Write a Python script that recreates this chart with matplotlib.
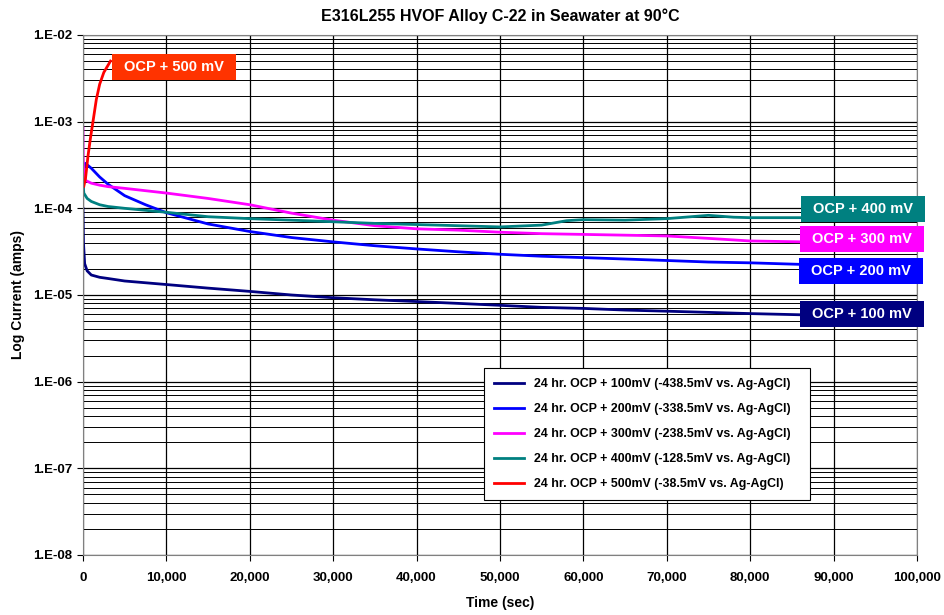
import numpy as np
import matplotlib.pyplot as plt
from matplotlib.patches import Rectangle
from matplotlib.ticker import FixedLocator, LogLocator, FuncFormatter, NullFormatter

plt.rcParams['font.family'] = ['Liberation Sans', 'DejaVu Sans']
plt.rcParams['font.weight'] = 'bold'

# current vs. time, one series per applied potential
t_100 = [0, 60, 200, 500, 1000, 2000, 3000, 5000, 10000, 15000, 20000, 25000, 30000,
         35000, 40000, 45000, 50000, 55000, 60000, 65000, 70000, 75000, 80000, 86400]
i_100 = [1.0e-4, 4.0e-5, 2.3e-5, 1.9e-5, 1.7e-5, 1.6e-5, 1.55e-5, 1.45e-5, 1.32e-5, 1.2e-5,
         1.1e-5, 1.0e-5, 9.3e-6, 8.8e-6, 8.4e-6, 8.0e-6, 7.6e-6, 7.2e-6, 7.0e-6, 6.7e-6,
         6.5e-6, 6.3e-6, 6.1e-6, 5.9e-6]

t_200 = [0, 100, 300, 1000, 2000, 3000, 5000, 7500, 10000, 15000, 20000, 25000, 30000,
         35000, 40000, 45000, 50000, 55000, 60000, 65000, 70000, 75000, 80000, 86400]
i_200 = [1.5e-4, 2.8e-4, 3.3e-4, 2.9e-4, 2.3e-4, 1.9e-4, 1.4e-4, 1.1e-4, 8.9e-5, 6.6e-5,
         5.4e-5, 4.6e-5, 4.1e-5, 3.7e-5, 3.4e-5, 3.15e-5, 2.95e-5, 2.8e-5, 2.7e-5, 2.6e-5,
         2.5e-5, 2.4e-5, 2.35e-5, 2.25e-5]

t_300 = [0, 20, 100, 300, 1000, 2000, 3000, 5000, 10000, 15000, 20000, 25000, 30000,
         35000, 40000, 45000, 50000, 55000, 60000, 65000, 70000, 75000, 80000, 86400]
i_300 = [8.5e-4, 4.0e-4, 2.4e-4, 2.1e-4, 1.95e-4, 1.85e-4, 1.78e-4, 1.7e-4, 1.5e-4, 1.3e-4,
         1.1e-4, 8.8e-5, 7.3e-5, 6.3e-5, 5.8e-5, 5.6e-5, 5.3e-5, 5.1e-5, 5.0e-5, 4.9e-5,
         4.8e-5, 4.5e-5, 4.2e-5, 4.1e-5]

t_400 = [0, 100, 500, 1000, 2000, 3000, 5000, 10000, 15000, 20000, 25000, 30000, 35000,
         40000, 45000, 50000, 55000, 58000, 60000, 65000, 70000, 75000, 78000, 80000, 86400]
i_400 = [2.0e-4, 1.5e-4, 1.3e-4, 1.2e-4, 1.1e-4, 1.05e-4, 1.0e-4, 9.0e-5, 8.0e-5, 7.6e-5,
         7.3e-5, 7.0e-5, 6.7e-5, 6.5e-5, 6.3e-5, 6.1e-5, 6.4e-5, 7.2e-5, 7.4e-5, 7.3e-5,
         7.6e-5, 8.3e-5, 7.9e-5, 7.8e-5, 7.8e-5]

t_500 = [100, 300, 600, 900, 1200, 1600, 2000, 2500, 3300]
i_500 = [1.8e-4, 2.2e-4, 4.0e-4, 6.5e-4, 1.0e-3, 1.8e-3, 2.7e-3, 3.7e-3, 5.0e-3]

series = [
    (t_100, i_100, '#000080', '24 hr. OCP + 100mV (-438.5mV vs. Ag-AgCl)'),
    (t_200, i_200, '#0000FF', '24 hr. OCP + 200mV (-338.5mV vs. Ag-AgCl)'),
    (t_300, i_300, '#FF00FF', '24 hr. OCP + 300mV (-238.5mV vs. Ag-AgCl)'),
    (t_400, i_400, '#008080', '24 hr. OCP + 400mV (-128.5mV vs. Ag-AgCl)'),
    (t_500, i_500, '#FF0000', '24 hr. OCP + 500mV (-38.5mV vs. Ag-AgCl)'),
]

fig = plt.figure(figsize=(9.45, 6.15), dpi=100)
ax = fig.add_axes([0.0878, 0.0976, 0.8825, 0.8455])

for t, i, c, lab in series:
    ax.plot(t, i, color=c, linewidth=2, label=lab)

ax.set_yscale('log')
ax.set_xlim(0, 100000)
ax.set_ylim(1e-8, 1e-2)
ax.xaxis.set_major_locator(FixedLocator(np.arange(0, 100001, 10000)))
ax.xaxis.set_major_formatter(FuncFormatter(lambda v, p: '{:,.0f}'.format(v)))
ax.yaxis.set_major_locator(LogLocator(base=10, numticks=10))
ax.yaxis.set_minor_locator(LogLocator(base=10, subs=np.arange(2, 10), numticks=20))
ax.yaxis.set_minor_formatter(NullFormatter())
ax.yaxis.set_major_formatter(FuncFormatter(lambda v, p: '1.E-{:02d}'.format(int(round(-np.log10(v))))))

ax.grid(which='major', axis='both', color='black', linewidth=0.9)
ax.grid(which='minor', axis='y', color='black', linewidth=0.7)
ax.tick_params(axis='y', which='minor', length=0)
ax.tick_params(axis='both', which='major', length=4, labelsize=9.5, direction='out')
ax.tick_params(axis='x', pad=8)
for lbl in ax.get_xticklabels() + ax.get_yticklabels():
    lbl.set_fontweight('bold')
for s in ax.spines.values():
    s.set_color('#808080')

ax.set_title('E316L255 HVOF Alloy C-22 in Seawater at 90°C', fontsize=11.5, fontweight='bold', pad=10)
ax.set_xlabel('Time (sec)', fontsize=10, fontweight='bold', labelpad=9)
ax.set_ylabel('Log Current (amps)', fontsize=10, fontweight='bold', labelpad=6)

leg = ax.legend(loc='lower left', bbox_to_anchor=(0.481, 0.106, 0.391, 0.25), mode='expand',
                borderaxespad=0, fontsize=8.9, frameon=True, fancybox=False, edgecolor='black',
                handlelength=2.4, labelspacing=1.05, borderpad=0.8, framealpha=1)
leg.get_frame().set_linewidth(0.8)
for txt in leg.get_texts():
    txt.set_fontweight('bold')

# boxed labels next to the curves (centre x, centre y in figure fraction)
tags = [
    ('OCP + 500 mV', 0.184, 0.891, '#FF3300'),
    ('OCP + 400 mV', 0.913, 0.660, '#008080'),
    ('OCP + 300 mV', 0.912, 0.611, '#FF00FF'),
    ('OCP + 200 mV', 0.911, 0.559, '#0000FF'),
    ('OCP + 100 mV', 0.912, 0.490, '#000080'),
]
bw, bh = 124 / 945, 26 / 615
for txt, x, y, c in tags:
    fig.patches.append(Rectangle((x - bw / 2, y - bh / 2), bw, bh, transform=fig.transFigure,
                                 facecolor=c, edgecolor='none', zorder=5))
    fig.text(x, y, txt, color='white', fontsize=10.5, fontweight='bold',
             ha='center', va='center', zorder=6)

fig.savefig('out.png', dpi=100)
